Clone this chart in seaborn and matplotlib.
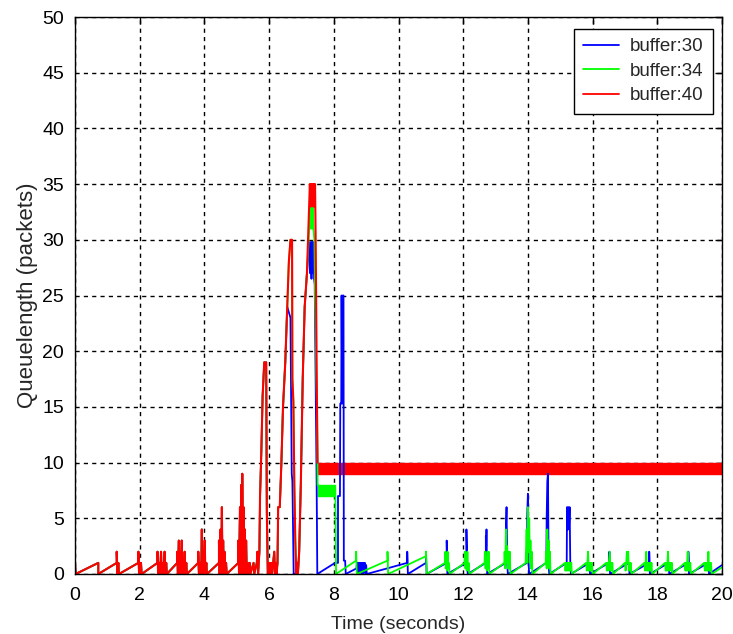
import matplotlib
matplotlib.use("Agg")
import matplotlib.pyplot as plt
import seaborn as sns
import pandas as pd

# ---- data: queue length (packets) vs time (seconds) ----
# start-up phase, identical for all three buffer sizes
early_pts = [
    (0.00, 0), (0.00, 1), (0.02, 0), (0.72, 1), (0.72, 0),
    (1.29, 1), (1.29, 2), (1.31, 0), (1.34, 1), (1.36, 0),
    (1.96, 1), (1.96, 2), (1.98, 0), (2.00, 1), (2.02, 0), (2.04, 1), (2.06, 0),
    (2.55, 1), (2.55, 2), (2.57, 0), (2.61, 1), (2.63, 0), (2.66, 2), (2.68, 0),
    (2.72, 1), (2.74, 0), (2.77, 2), (2.79, 0), (2.82, 1), (2.84, 0),
    (3.16, 1), (3.16, 2), (3.18, 0), (3.21, 3), (3.23, 0), (3.25, 2), (3.27, 0),
    (3.30, 3), (3.32, 0), (3.34, 1), (3.36, 0), (3.39, 2), (3.41, 0), (3.44, 1), (3.46, 0),
    (3.81, 1), (3.81, 2), (3.83, 0), (3.88, 1), (3.90, 0), (3.92, 4), (3.94, 0),
    (3.96, 2), (3.98, 0), (4.01, 3), (4.03, 0), (4.06, 1), (4.08, 0),
    (4.45, 1), (4.45, 3), (4.47, 0), (4.50, 4), (4.52, 0), (4.54, 6), (4.56, 0),
    (4.58, 3), (4.60, 0), (4.62, 2), (4.64, 0), (4.67, 1), (4.69, 0),
    (5.05, 1), (5.05, 3), (5.07, 0), (5.10, 6), (5.12, 0), (5.14, 8), (5.16, 0),
    (5.17, 9), (5.19, 2), (5.21, 6), (5.23, 0), (5.25, 4), (5.27, 0), (5.29, 3),
    (5.31, 0), (5.34, 1), (5.36, 0), (5.40, 1), (5.42, 0),
    (5.52, 1), (5.54, 0), (5.62, 1), (5.64, 2), (5.66, 0), (5.70, 2), (5.72, 7),
    (5.76, 11), (5.80, 16), (5.85, 19), (5.91, 19), (5.93, 5.5), (5.96, 0),
    (6.01, 1), (6.03, 0), (6.07, 1), (6.09, 0), (6.16, 2), (6.18, 0), (6.21, 1),
    (6.23, 0), (6.26, 1), (6.28, 6),
]

# buffer 40
red_tail_pts = [
    (6.33, 6), (6.38, 10), (6.43, 15), (6.50, 19), (6.56, 24), (6.61, 28),
    (6.66, 30), (6.71, 30), (6.72, 17.5), (6.75, 15.5), (6.78, 8), (6.81, 3),
    (6.84, 0), (6.87, 1), (6.89, 0), (6.93, 2), (6.98, 8), (7.04, 17.6),
    (7.10, 24), (7.17, 27), (7.24, 33), (7.26, 35), (7.28, 33), (7.30, 35),
    (7.32, 33), (7.34, 35), (7.36, 33), (7.38, 35), (7.40, 33), (7.42, 35),
    (7.44, 30), (7.46, 22), (7.48, 15), (7.50, 10),
]
red_band_t = [7.50, 20.0]
red_band_lo = [9.0, 9.0]
red_band_hi = [10.0, 10.0]

# buffer 34
green_tail_pts = [
    (6.33, 6), (6.38, 10), (6.43, 15), (6.50, 19), (6.56, 24), (6.61, 28),
    (6.66, 30), (6.71, 30), (6.72, 17.5), (6.75, 15.5), (6.78, 8), (6.81, 3),
    (6.84, 0), (6.87, 1), (6.89, 0), (6.93, 2), (6.98, 8), (7.04, 17.6),
    (7.10, 24), (7.17, 27), (7.24, 31), (7.27, 33), (7.29, 31), (7.31, 33),
    (7.33, 31), (7.35, 33), (7.37, 31), (7.40, 30), (7.42, 25), (7.44, 22),
    (7.46, 17.5), (7.48, 15), (7.50, 8),
]
green_band_t = [7.50, 8.05]
green_band_lo = [7.0, 7.0]
green_band_hi = [8.0, 8.0]
green_post_pts = [
    (8.05, 7), (8.07, 0), (8.69, 1.2), (8.69, 2), (8.71, 0),
    (9.66, 1.2), (9.66, 2), (9.68, 0),
    (10.85, 1.6), (10.85, 2), (10.87, 0),
    (11.44, 1), (11.45, 2), (11.46, 0.5), (11.48, 1.5), (11.50, 0.3), (11.52, 2),
    (11.54, 0.5), (11.56, 1), (11.58, 0),
    (12.04, 1), (12.05, 2), (12.07, 0.5), (12.09, 1.5), (12.11, 0.3), (12.13, 2),
    (12.15, 0.5), (12.17, 1), (12.19, 0),
    (12.66, 1), (12.67, 2), (12.69, 0.5), (12.71, 1.5), (12.73, 0.3), (12.75, 2),
    (12.77, 0.5), (12.79, 2), (12.81, 0),
    (13.27, 1), (13.28, 2), (13.30, 0.5), (13.32, 4), (13.34, 1), (13.36, 2.5),
    (13.38, 0.5), (13.40, 2), (13.42, 0.5), (13.44, 2), (13.46, 0),
    (13.93, 1), (13.94, 2), (13.96, 4), (13.98, 1), (14.00, 6), (14.02, 2),
    (14.04, 5), (14.06, 1), (14.08, 3), (14.10, 0.5), (14.12, 2), (14.14, 0),
    (14.55, 1), (14.56, 2), (14.58, 0.5), (14.60, 4), (14.62, 1), (14.64, 3),
    (14.66, 0.5), (14.68, 2), (14.70, 0),
    (15.15, 1), (15.16, 0.3), (15.18, 1), (15.20, 0.3), (15.22, 1), (15.24, 0.3),
    (15.26, 1), (15.28, 0.3), (15.30, 1), (15.32, 0.3), (15.34, 1), (15.36, 0),
    (15.80, 1), (15.82, 0.3), (15.84, 1), (15.86, 2), (15.88, 0.3), (15.90, 1),
    (15.92, 0.3), (15.94, 1), (15.96, 0.3), (15.98, 1), (16.00, 0),
    (16.42, 1), (16.44, 0.3), (16.46, 1), (16.48, 0.3), (16.50, 1), (16.53, 2),
    (16.55, 0.3), (16.57, 1), (16.59, 0.3), (16.61, 1), (16.63, 0),
    (17.00, 1), (17.02, 0.3), (17.04, 1), (17.06, 2), (17.08, 1), (17.10, 2),
    (17.12, 0.3), (17.14, 1), (17.16, 0.3), (17.18, 1), (17.20, 0),
    (17.60, 1), (17.62, 0.3), (17.64, 1), (17.66, 2), (17.68, 0.3), (17.70, 1),
    (17.72, 0.3), (17.74, 1), (17.76, 0.3), (17.78, 1), (17.80, 0.3), (17.82, 1),
    (17.84, 0),
    (18.24, 1), (18.26, 0.3), (18.28, 1), (18.30, 0.3), (18.33, 2), (18.35, 0.3),
    (18.37, 1), (18.39, 0.3), (18.41, 1), (18.43, 0.3), (18.45, 1), (18.47, 0),
    (18.85, 1), (18.87, 0.3), (18.89, 1), (18.91, 0.3), (18.94, 2), (18.96, 0.3),
    (18.98, 1), (19.00, 0.3), (19.02, 1), (19.04, 0),
    (19.45, 1), (19.47, 0.3), (19.49, 1), (19.51, 0.3), (19.53, 1), (19.55, 0.3),
    (19.58, 2), (19.60, 0.3), (19.62, 1), (19.64, 0.3), (19.66, 1), (19.68, 0),
    (20.00, 0.6),
]

# buffer 30
blue_tail_pts = [
    (6.33, 6), (6.38, 10), (6.43, 15), (6.50, 19), (6.56, 24), (6.66, 23),
    (6.68, 16), (6.70, 9), (6.72, 8.3), (6.76, 0), (6.84, 0), (6.87, 1),
    (6.89, 0), (6.93, 2), (6.98, 8), (7.04, 17.6), (7.10, 24), (7.17, 27),
    (7.24, 29.8), (7.27, 27), (7.29, 29.8), (7.31, 26.5), (7.33, 29.8),
    (7.35, 27), (7.37, 29.8), (7.39, 26.5), (7.41, 26), (7.43, 20), (7.45, 15),
    (7.47, 8), (7.49, 0),
    (8.04, 1), (8.13, 1), (8.13, 7), (8.19, 7), (8.20, 15.3), (8.23, 15.3),
    (8.24, 25), (8.26, 15.3), (8.28, 25), (8.30, 25), (8.31, 1.2), (8.35, 1.2),
    (8.37, 0),
    (8.70, 0.5), (8.72, 1), (8.74, 0), (8.76, 1), (8.78, 0), (8.80, 1),
    (8.82, 0.2), (8.84, 1), (8.86, 0), (8.88, 1), (8.90, 0), (8.92, 1),
    (8.94, 0.2), (8.96, 1), (8.98, 0), (9.00, 0.8), (9.02, 0),
    (10.27, 1), (10.27, 2), (10.29, 0),
    (10.85, 1), (10.85, 2), (10.87, 0),
    (11.49, 1), (11.49, 3), (11.51, 0),
    (12.10, 1), (12.10, 4), (12.12, 1), (12.14, 0),
    (12.70, 1), (12.70, 3.4), (12.71, 2.5), (12.72, 4), (12.74, 0),
    (13.32, 1), (13.32, 4), (13.34, 6), (13.36, 1), (13.38, 0),
    (13.97, 1), (13.98, 5.4), (14.00, 7.2), (14.02, 1), (14.04, 0),
    (14.57, 1), (14.58, 5), (14.60, 8.3), (14.62, 9), (14.64, 1), (14.66, 0),
    (15.20, 1), (15.21, 6), (15.23, 4), (15.25, 6), (15.27, 4), (15.29, 6),
    (15.31, 1), (15.33, 0),
    (15.90, 1), (15.92, 0),
    (16.50, 1), (16.52, 2), (16.54, 0),
    (17.12, 1), (17.14, 0),
    (17.75, 1), (17.75, 2), (17.77, 0),
    (18.35, 1), (18.37, 0),
    (18.96, 1), (18.96, 2), (18.98, 0),
    (19.58, 1), (19.60, 0), (20.00, 0.8),
]

series_names = ["buffer:30", "buffer:34", "buffer:40"]
series_colors = ["#0000ff", "#00ff00", "#ff0000"]
x_ticks = list(range(0, 21, 2))
y_ticks = list(range(0, 51, 5))


def to_frame(points):
    return pd.DataFrame(points, columns=["t", "q"])


blue_df = to_frame(early_pts + blue_tail_pts)
green_df = to_frame(early_pts + green_tail_pts + green_post_pts)
red_df = to_frame(early_pts + red_tail_pts)

# ---- styling ----
sns.set_style("white")
plt.rcParams["font.family"] = ["Liberation Sans", "DejaVu Sans"]
plt.rcParams["font.size"] = 14

fig = plt.figure(figsize=(7.33, 6.34), dpi=100)
ax = fig.add_axes([75 / 733, 60 / 634, 647 / 733, 557 / 634])

lw = 1.3
sns.lineplot(data=blue_df, x="t", y="q", sort=False, estimator=None,
             color=series_colors[0], lw=lw, label=series_names[0], ax=ax)
sns.lineplot(data=green_df, x="t", y="q", sort=False, estimator=None,
             color=series_colors[1], lw=lw, label=series_names[1], ax=ax)
ax.fill_between(green_band_t, green_band_lo, green_band_hi,
                color=series_colors[1], lw=1.0)
sns.lineplot(data=red_df, x="t", y="q", sort=False, estimator=None,
             color=series_colors[2], lw=lw + 0.2, label=series_names[2], ax=ax)
ax.fill_between(red_band_t, red_band_lo, red_band_hi,
                color=series_colors[2], lw=1.0)

ax.set_xlim(0, 20)
ax.set_ylim(0, 50)
ax.set_xticks(x_ticks)
ax.set_yticks(y_ticks)
ax.grid(True, color="black", linestyle=(0, (3, 3)), linewidth=1.0)
ax.set_axisbelow(True)
for s in ax.spines.values():
    s.set_color("black")
    s.set_linewidth(1.0)
ax.tick_params(direction="in", length=5, width=1, colors="black",
               top=True, right=True, labelsize=14)
ax.tick_params(axis="y", pad=8)
ax.tick_params(axis="x", pad=9)
ax.set_xlabel("Time (seconds)", fontsize=14, labelpad=9)
ax.set_ylabel("Queuelength (packets)", fontsize=16, labelpad=3)

leg = ax.legend(loc="upper right", bbox_to_anchor=(0.986, 0.9785),
                borderaxespad=0, fontsize=13.5, handlelength=1.9,
                handletextpad=0.6, frameon=True, fancybox=False,
                framealpha=1, edgecolor="black", labelspacing=0.39,
                borderpad=0.5)
leg.get_frame().set_linewidth(1.0)
for line in leg.get_lines():
    line.set_linewidth(1.3)

fig.savefig("out.png", dpi=100, facecolor="white")
